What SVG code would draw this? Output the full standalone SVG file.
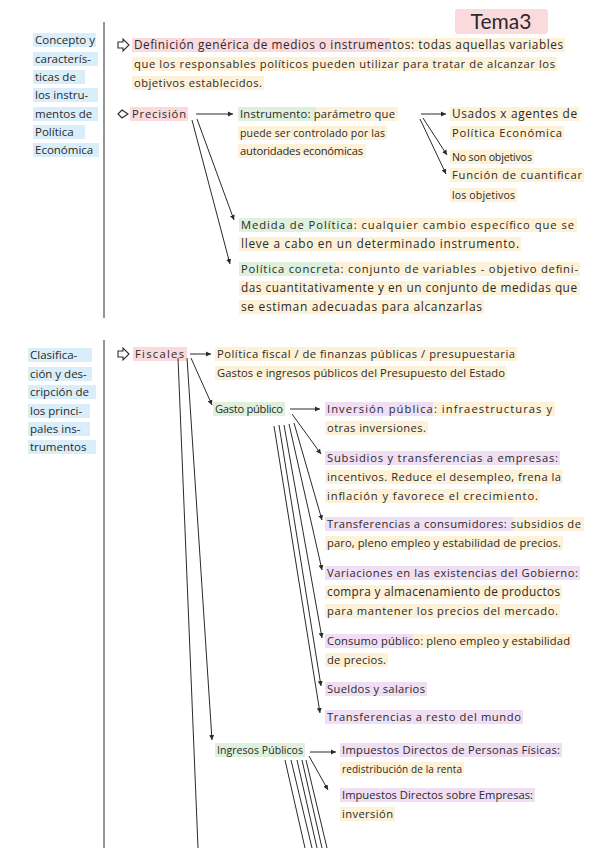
<svg xmlns="http://www.w3.org/2000/svg" width="600" height="848" viewBox="0 0 600 848">
<defs>
<style>
text{font-family:"Open Sans","Liberation Sans",sans-serif;font-size:11.2px;fill:#2a2a2a}
.lbl{font-size:11.5px}
.s10{font-size:10.6px}.s105{font-size:10.5px}.s95{font-size:10px}.s12{font-size:11.8px}.s123{font-size:12px}
.title{font-size:21px;font-family:"Lato","Liberation Sans",sans-serif}
.c{fill:none;stroke:#2a2a2a;stroke-width:1}
.pk{fill:#fbdadd}.yl{fill:#fdf1d8}.gr{fill:#dff0dd}.bl{fill:#d9eef9}.pu{fill:#f0def2}
.ic{fill:#fff;stroke:#2a2a2a;stroke-width:1.1}
</style>
<marker id="ah" markerWidth="6" markerHeight="6" refX="5" refY="3" orient="auto" markerUnits="userSpaceOnUse">
<path d="M0,0.5 L5,3 L0,5.5 Z" fill="#2a2a2a"/>
</marker>
</defs>
<rect width="600" height="848" fill="#ffffff"/>

<g id="title">
<rect class="pk" x="455" y="9" width="93" height="25" rx="3"/>
<text class="title" x="501" y="29" text-anchor="middle">Tema3</text>
</g>

<g id="dividers">
<line class="c" x1="104" y1="22" x2="104" y2="318"/>
<line class="c" x1="104" y1="340" x2="104" y2="848"/>
</g>

<g id="label-concepto">
<rect class="bl" x="33" y="33" width="63" height="14"/>
<rect class="bl" x="33" y="52" width="65" height="14"/>
<rect class="bl" x="33" y="70" width="52" height="14"/>
<rect class="bl" x="33" y="88" width="65" height="14"/>
<rect class="bl" x="33" y="107" width="65" height="14"/>
<rect class="bl" x="33" y="125" width="52" height="14"/>
<rect class="bl" x="33" y="143" width="66" height="14"/>
<text class="lbl" x="35" y="44">Concepto y</text>
<text class="lbl" x="35" y="63">caracterís-</text>
<text class="lbl" x="35" y="81">ticas de</text>
<text class="lbl" x="35" y="99">los instru-</text>
<text class="lbl" x="35" y="118">mentos de</text>
<text class="lbl" x="35" y="136">Política</text>
<text class="lbl" x="35" y="154">Económica</text>
</g>

<g id="definicion">
<path class="ic" d="M118,42 h5 v-3 l6,6 l-6,6 v-3 h-5 z"/>
<rect class="pk" x="132" y="38" width="258" height="14"/>
<rect class="yl" x="390" y="38" width="175" height="14"/>
<rect class="yl" x="132" y="57" width="425" height="14"/>
<rect class="yl" x="132" y="76" width="132" height="14"/>
<text class="s12" x="134" y="49" textLength="429">Definición genérica de medios o instrumentos: todas aquellas variables</text>
<text x="134" y="68" textLength="421">que los responsables políticos pueden utilizar para tratar de alcanzar los</text>
<text x="134" y="87" textLength="128">objetivos establecidos.</text>
</g>

<g id="precision">
<path class="ic" d="M118,114 l4,-4 l6,4 l-6,4 z"/>
<rect class="pk" x="130" y="107" width="58" height="14"/>
<text x="132" y="118" textLength="54">Precisión</text>
</g>

<g id="instrumento">
<rect class="gr" x="238" y="107" width="78" height="14"/>
<rect class="yl" x="316" y="107" width="82" height="14"/>
<rect class="yl" x="238" y="126" width="149" height="14"/>
<rect class="yl" x="238" y="144" width="128" height="14"/>
<text x="240" y="118" textLength="155">Instrumento: parámetro que</text>
<text class="s105" x="240" y="137" textLength="145">puede ser controlado por las</text>
<text x="240" y="155" textLength="123">autoridades económicas</text>
</g>

<g id="usados">
<rect class="yl" x="450" y="107" width="129" height="14"/>
<rect class="yl" x="450" y="126" width="114" height="14"/>
<text class="s12" x="452" y="118" textLength="125">Usados x agentes de</text>
<text x="452" y="137" textLength="110">Política Económica</text>
</g>
<g id="no-objetivos">
<rect class="yl" x="450" y="150" width="84" height="14"/>
<text class="s10" x="452" y="161" textLength="80">No son objetivos</text>
</g>
<g id="funcion">
<rect class="yl" x="450" y="168" width="134" height="14"/>
<rect class="yl" x="450" y="188" width="67" height="14"/>
<text x="452" y="179" textLength="130">Función de cuantificar</text>
<text class="s10" x="452" y="199" textLength="63">los objetivos</text>
</g>

<g id="medida">
<rect class="gr" x="239" y="218" width="113" height="14"/>
<rect class="yl" x="352" y="218" width="225" height="14"/>
<rect class="yl" x="239" y="237" width="282" height="14"/>
<text x="241" y="229" textLength="333">Medida de Política: cualquier cambio específico que se</text>
<text class="s12" x="241" y="248" textLength="278">lleve a cabo en un determinado instrumento.</text>
</g>

<g id="politica-concreta">
<rect class="gr" x="239" y="262" width="97" height="14"/>
<rect class="yl" x="336" y="262" width="244" height="14"/>
<rect class="yl" x="239" y="281" width="341" height="14"/>
<rect class="yl" x="239" y="300" width="245" height="14"/>
<text x="241" y="273" textLength="337">Política concreta: conjunto de variables - objetivo defini-</text>
<text class="s12" x="241" y="292" textLength="336">das cuantitativamente y en un conjunto de medidas que</text>
<text class="s123" x="241" y="311" textLength="241">se estiman adecuadas para alcanzarlas</text>
</g>

<g id="label-clasificacion">
<rect class="bl" x="28" y="348" width="64" height="14"/>
<rect class="bl" x="28" y="367" width="64" height="14"/>
<rect class="bl" x="28" y="385" width="68" height="14"/>
<rect class="bl" x="28" y="404" width="62" height="14"/>
<rect class="bl" x="28" y="422" width="62" height="14"/>
<rect class="bl" x="28" y="440" width="68" height="14"/>
<text class="lbl" x="30" y="359">Clasifica-</text>
<text class="lbl" x="30" y="378">ción y des-</text>
<text class="lbl" x="30" y="396">cripción de</text>
<text class="lbl" x="30" y="415">los princi-</text>
<text class="lbl" x="30" y="433">pales ins-</text>
<text class="lbl" x="30" y="451">trumentos</text>
</g>

<g id="fiscales">
<path class="ic" d="M118,351 h5 v-3 l6,6 l-6,6 v-3 h-5 z"/>
<rect class="pk" x="133" y="347" width="54" height="14"/>
<text x="135" y="358" textLength="49">Fiscales</text>
</g>

<g id="politica-fiscal">
<rect class="yl" x="215" y="347" width="302" height="14"/>
<rect class="yl" x="215" y="366" width="292" height="14"/>
<text x="217" y="358" textLength="298">Política fiscal / de finanzas públicas / presupuestaria</text>
<text x="217" y="377" textLength="288">Gastos e ingresos públicos del Presupuesto del Estado</text>
</g>

<g id="gasto-publico">
<rect class="gr" x="213" y="402" width="72" height="14"/>
<text x="215" y="413" textLength="68">Gasto público</text>
</g>

<g id="inversion-publica">
<rect class="pu" x="325" y="402" width="108" height="14"/>
<rect class="yl" x="433" y="402" width="122" height="14"/>
<rect class="yl" x="325" y="421" width="103" height="14"/>
<text x="327" y="413" textLength="225">Inversión pública: infraestructuras y</text>
<text x="327" y="432" textLength="99">otras inversiones.</text>
</g>

<g id="subsidios">
<rect class="pu" x="325" y="451" width="235" height="14"/>
<rect class="yl" x="325" y="470" width="238" height="14"/>
<rect class="yl" x="325" y="489" width="215" height="14"/>
<text x="327" y="462" textLength="231">Subsidios y transferencias a empresas:</text>
<text x="327" y="481" textLength="234">incentivos. Reduce el desempleo, frena la</text>
<text x="327" y="500" textLength="211">inflación y favorece el crecimiento.</text>
</g>

<g id="transf-consumidores">
<rect class="pu" x="325" y="517" width="188" height="14"/>
<rect class="yl" x="513" y="517" width="71" height="14"/>
<rect class="yl" x="325" y="536" width="238" height="14"/>
<text x="327" y="528" textLength="254">Transferencias a consumidores: subsidios de</text>
<text x="327" y="547" textLength="234">paro, pleno empleo y estabilidad de precios.</text>
</g>

<g id="variaciones">
<rect class="pu" x="325" y="566" width="255" height="14"/>
<rect class="yl" x="325" y="585" width="237" height="14"/>
<rect class="yl" x="325" y="604" width="235" height="14"/>
<text x="327" y="577" textLength="251">Variaciones en las existencias del Gobierno:</text>
<text class="s12" x="327" y="596" textLength="233">compra y almacenamiento de productos</text>
<text x="327" y="615" textLength="231">para mantener los precios del mercado.</text>
</g>

<g id="consumo-publico">
<rect class="pu" x="325" y="634" width="88" height="14"/>
<rect class="yl" x="413" y="634" width="159" height="14"/>
<rect class="yl" x="325" y="653" width="63" height="14"/>
<text x="327" y="645" textLength="243">Consumo público: pleno empleo y estabilidad</text>
<text x="327" y="664" textLength="59">de precios.</text>
</g>

<g id="sueldos">
<rect class="pu" x="325" y="682" width="102" height="14"/>
<text x="327" y="693" textLength="98">Sueldos y salarios</text>
</g>

<g id="transf-resto">
<rect class="pu" x="325" y="710" width="198" height="14"/>
<text x="327" y="721" textLength="194">Transferencias a resto del mundo</text>
</g>

<g id="ingresos-publicos">
<rect class="gr" x="215" y="743" width="90" height="14"/>
<text class="s105" x="217" y="754" textLength="86">Ingresos Públicos</text>
</g>

<g id="impuestos-personas">
<rect class="pu" x="340" y="743" width="222" height="14"/>
<rect class="yl" x="340" y="762" width="124" height="14"/>
<text x="342" y="754" textLength="218">Impuestos Directos de Personas Físicas:</text>
<text class="s95" x="342" y="773" textLength="120">redistribución de la renta</text>
</g>

<g id="impuestos-empresas">
<rect class="pu" x="340" y="788" width="195" height="14"/>
<rect class="yl" x="340" y="807" width="55" height="14"/>
<text x="342" y="799" textLength="191">Impuestos Directos sobre Empresas:</text>
<text x="342" y="818" textLength="51">inversión</text>
</g>

<g id="connectors">
<line class="c" x1="196" y1="114" x2="233" y2="114" marker-end="url(#ah)"/>
<line class="c" x1="197" y1="119" x2="234" y2="220" marker-end="url(#ah)"/>
<line class="c" x1="192" y1="120" x2="230" y2="264" marker-end="url(#ah)"/>
<line class="c" x1="421" y1="114" x2="446" y2="114" marker-end="url(#ah)"/>
<line class="c" x1="423" y1="118" x2="447" y2="155" marker-end="url(#ah)"/>
<line class="c" x1="420" y1="119" x2="446" y2="174" marker-end="url(#ah)"/>

<line class="c" x1="190" y1="354" x2="211" y2="354" marker-end="url(#ah)"/>
<line class="c" x1="191" y1="358" x2="212" y2="405" marker-end="url(#ah)"/>
<line class="c" x1="178" y1="358" x2="198" y2="848"/>
<line class="c" x1="187" y1="358" x2="212" y2="740" marker-end="url(#ah)"/>

<line class="c" x1="290" y1="409" x2="320" y2="409" marker-end="url(#ah)"/>
<line class="c" x1="292" y1="414" x2="321" y2="454" marker-end="url(#ah)"/>
<line class="c" x1="294" y1="423" x2="322" y2="520" marker-end="url(#ah)"/>
<line class="c" x1="289" y1="424" x2="322" y2="570" marker-end="url(#ah)"/>
<line class="c" x1="284" y1="425" x2="322" y2="638" marker-end="url(#ah)"/>
<line class="c" x1="279" y1="425" x2="321" y2="686" marker-end="url(#ah)"/>
<line class="c" x1="274" y1="426" x2="320" y2="713" marker-end="url(#ah)"/>

<line class="c" x1="310" y1="752" x2="336" y2="752" marker-end="url(#ah)"/>
<line class="c" x1="309" y1="756" x2="328" y2="790" marker-end="url(#ah)"/>
<line class="c" x1="306" y1="760" x2="327" y2="848"/>
<line class="c" x1="302" y1="760" x2="322" y2="848"/>
<line class="c" x1="297" y1="760" x2="317" y2="848"/>
<line class="c" x1="291" y1="760" x2="312" y2="848"/>
<line class="c" x1="285" y1="760" x2="305" y2="848"/>
</g>
</svg>
